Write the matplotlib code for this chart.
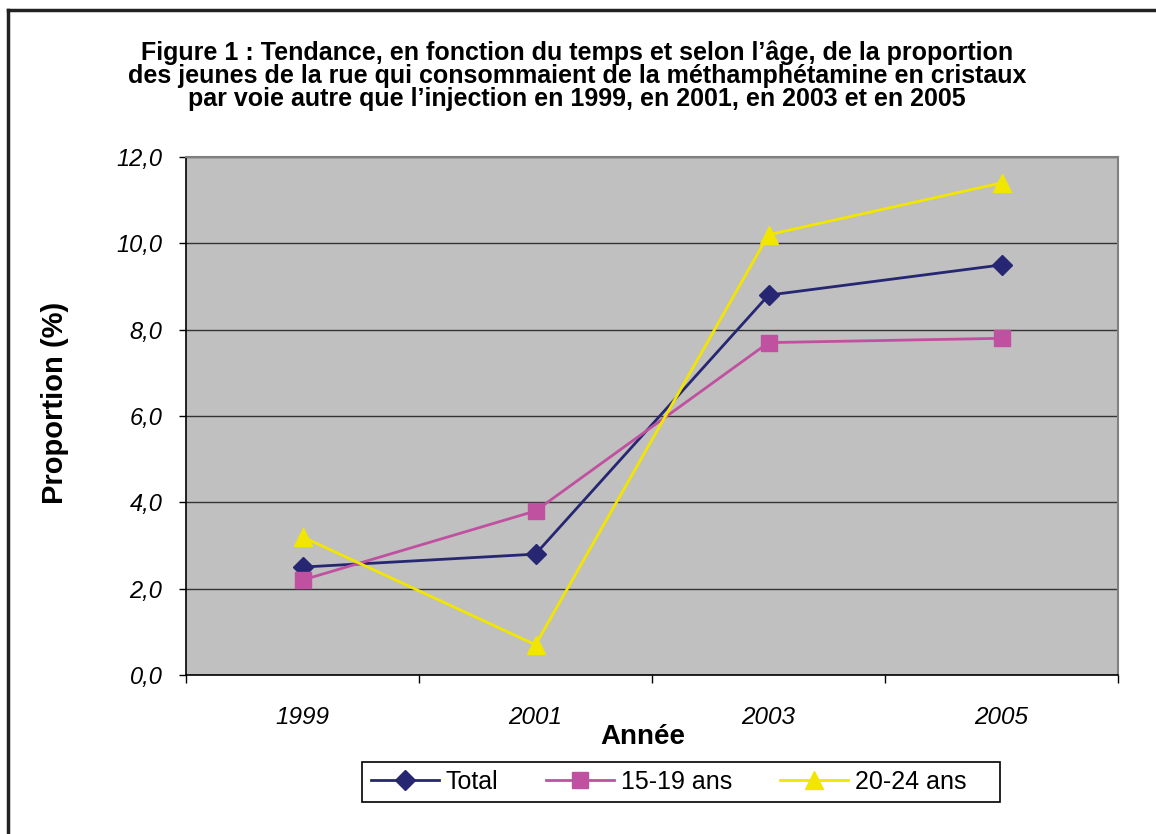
import matplotlib
matplotlib.use("Agg")
import matplotlib.pyplot as plt
from matplotlib.lines import Line2D
from matplotlib.patches import Rectangle

plt.rcParams['font.family'] = ['Liberation Sans', 'DejaVu Sans']

# Data
years = ["1999", "2001", "2003", "2005"]
total = [2.5, 2.8, 8.8, 9.5]
ages_15_19 = [2.2, 3.8, 7.7, 7.8]
ages_20_24 = [3.2, 0.7, 10.2, 11.4]
y_ticks = [0, 2, 4, 6, 8, 10, 12]

fig = plt.figure(figsize=(11.56, 8.34), dpi=100)
ax = fig.add_axes([186 / 1156, 1 - 675 / 834, (1118 - 186) / 1156, (675 - 157) / 834])
ax.set_facecolor("#C0C0C0")

x = list(range(len(years)))
ax.plot(x, total, color="#262673", lw=2, marker="D", ms=10, label="Total")
ax.plot(x, ages_15_19, color="#C050A0", lw=2, marker="s", ms=11, label="15-19 ans")
ax.plot(x, ages_20_24, color="#F2E600", lw=2, marker="^", ms=13, label="20-24 ans")

ax.set_xlim(-0.5, len(years) - 0.5)
ax.set_ylim(0, 12)

# gridlines
ax.set_yticks(y_ticks)
ax.set_yticklabels([f"{v:.1f}".replace(".", ",") for v in y_ticks],
                   fontsize=17, fontstyle="italic")
ax.yaxis.grid(True, color="#333333", lw=1)
ax.set_axisbelow(True)

# category labels at centers, tick marks at boundaries
ax.set_xticks(x)
ax.set_xticklabels(years, fontsize=17.5, fontstyle="italic")
ax.set_xticks([i - 0.5 for i in range(len(years) + 1)], minor=True)
ax.tick_params(axis="x", which="major", length=0, pad=22)
ax.tick_params(axis="x", which="minor", length=6, width=1, direction="out")
ax.tick_params(axis="y", length=5, width=1, direction="out", pad=12)

for side in ["top", "right"]:
    ax.spines[side].set_color("#808080")
    ax.spines[side].set_linewidth(1.5)
ax.spines["left"].set_linewidth(1.2)
ax.spines["bottom"].set_linewidth(1.2)

fig.text(55 / 1156, 1 - 403 / 834, "Proportion (%)", fontsize=21, fontweight="bold",
         rotation=90, ha="center", va="center")
fig.text(643 / 1156, 1 - 737 / 834, "Année", fontsize=20, fontweight="bold",
         ha="center", va="center")

fig.text(577 / 1156, 1 - 76 / 834,
         "Figure 1 : Tendance, en fonction du temps et selon l’âge, de la proportion\n"
         "des jeunes de la rue qui consommaient de la méthamphétamine en cristaux\n"
         "par voie autre que l’injection en 1999, en 2001, en 2003 et en 2005",
         fontsize=18, fontweight="bold", ha="center", va="center", linespacing=0.95)

# legend (frame drawn separately to match the wide box)
leg = fig.legend(loc="center left", bbox_to_anchor=(371 / 1156, 1 - 782 / 834), ncol=3,
                 fontsize=18, frameon=False, handlelength=2.72, handletextpad=0.28,
                 columnspacing=1.9, borderpad=0, borderaxespad=0)
fig.add_artist(Rectangle((362 / 1156, 1 - 802 / 834), (1000 - 362) / 1156, 40 / 834,
                         transform=fig.transFigure, fill=False, edgecolor="black", lw=1.2))

# outer border (top and left visible)
fig.add_artist(Line2D([8 / 1156, 8 / 1156], [0, 1 - 10 / 834], color="#222222", lw=2.5,
                      transform=fig.transFigure))
fig.add_artist(Line2D([8 / 1156, 1], [1 - 10 / 834, 1 - 10 / 834], color="#222222", lw=2.5,
                      transform=fig.transFigure))

fig.savefig("out.png", dpi=100)
